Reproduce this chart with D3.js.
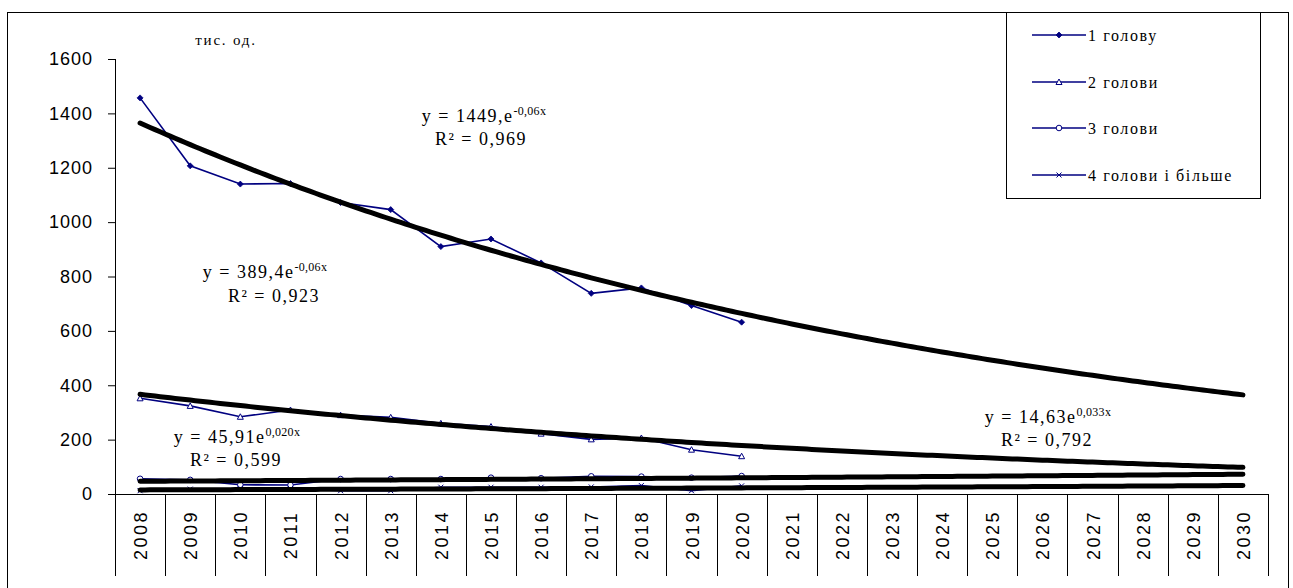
<!DOCTYPE html>
<html>
<head>
<meta charset="utf-8">
<script src="https://cdn.jsdelivr.net/npm/d3@7"></script>
<style>
  html, body { margin: 0; padding: 0; background: #fff; }
  svg { display: block; }
</style>
</head>
<body>
<svg id="chart" width="1293" height="588"></svg>
<script>
// Years on the category axis (observed 2008–2020, forecast to 2030)
const years = ["2008","2009","2010","2011","2012","2013","2014","2015","2016","2017","2018","2019","2020",
               "2021","2022","2023","2024","2025","2026","2027","2028","2029","2030"];
const observedYears = years.slice(0, 13);

// Households by number of cattle heads, thousand units
const seriesNames = ["1 голову", "2 голови", "3 голови", "4 голови і більше"];
const oneHead   = [1457, 1207, 1140, 1142, 1072, 1046, 910, 938, 850, 738, 758, 693, 632];
const twoHeads  = [352, 324, 284, 309, 290, 282, 260, 248, 222, 201, 206, 163, 139];
const threeHeads = [56, 52, 34, 33, 55, 55, 55, 60, 58, 65, 64, 60, 66];
const fourPlus  = [12, 18, 19, 20, 12, 12, 25, 25, 25, 26, 31, 12, 30];

// Exponential trends y = a·e^(b·x), x = 1 for 2008
const trendA = [1449, 389.4, 45.91, 14.63];
const trendB = [-0.06, -0.06, 0.020, 0.033];
const trendCoefText = ["1449,e", "389,4e", "45,91e", "14,63e"];
const trendExpText  = ["-0,06x", "-0,06x", "0,020x", "0,033x"];
const trendR2Text   = ["0,969", "0,923", "0,599", "0,792"];

const yTicks = [0, 200, 400, 600, 800, 1000, 1200, 1400, 1600];
const unitLabel = "тис. од.";

const svg = d3.select("#chart");
const navy = "#000080";
const serif = "'Liberation Serif', 'Times New Roman', serif";
const sans = "'Liberation Sans', Arial, sans-serif";

// Outer frame
svg.append("rect").attr("x", 7.5).attr("y", 12.5).attr("width", 1281).attr("height", 600)
  .attr("fill", "none").attr("stroke", "#000").attr("stroke-width", 1);

const plot = { left: 115, right: 1268, top: 59, bottom: 494 };

const x = d3.scaleBand().domain(years).range([plot.left, plot.right]).padding(0);
const cx = d => x(d) + x.bandwidth() / 2;
const y = d3.scaleLinear().domain([0, 1600]).range([plot.bottom, plot.top]);

// Y axis
const yAxis = svg.append("g").attr("transform", `translate(${plot.left},0)`)
  .call(d3.axisLeft(y).tickValues(yTicks).tickSize(7).tickPadding(15).tickFormat(d3.format("d")));
yAxis.select(".domain").attr("stroke", "#000").attr("d", `M0.5,${plot.top}V${plot.bottom}`);
yAxis.selectAll(".tick line").attr("stroke", "#000");
yAxis.selectAll(".tick text")
  .attr("font-family", sans).attr("font-size", 18).attr("letter-spacing", 1).attr("fill", "#000");

// X axis: baseline and category separators
svg.append("line").attr("x1", plot.left - 7).attr("x2", plot.right)
  .attr("y1", plot.bottom + 0.5).attr("y2", plot.bottom + 0.5).attr("stroke", "#000");
const bounds = years.map(d => x(d)).concat([plot.right]);
svg.append("g").selectAll("line").data(bounds).join("line")
  .attr("x1", d => Math.round(d) + 0.5).attr("x2", d => Math.round(d) + 0.5)
  .attr("y1", plot.bottom).attr("y2", 576).attr("stroke", "#000");
svg.append("g").selectAll("text").data(years).join("text")
  .attr("transform", d => `translate(${cx(d) + 1},535) rotate(-90)`)
  .attr("text-anchor", "middle").attr("dominant-baseline", "central")
  .attr("font-family", sans).attr("font-size", 18).attr("letter-spacing", 2.5)
  .text(d => d);

// Unit label
svg.append("text").attr("x", 226).attr("y", 45).attr("text-anchor", "middle")
  .attr("font-family", serif).attr("font-size", 15).attr("letter-spacing", 1.8)
  .text(unitLabel);

// Observed series
const allSeries = [oneHead, twoHeads, threeHeads, fourPlus];
const line = d3.line().x((d, i) => cx(observedYears[i])).y(d => y(d));

function drawMarker(g, kind, px, py) {
  if (kind === 0) {
    g.append("path").attr("d", `M${px},${py - 3}L${px + 3},${py}L${px},${py + 3}L${px - 3},${py}Z`)
      .attr("fill", navy).attr("stroke", navy).attr("stroke-width", 0.8);
  } else if (kind === 1) {
    g.append("path").attr("d", `M${px},${py - 3}L${px + 3},${py + 2.5}L${px - 3},${py + 2.5}Z`)
      .attr("fill", "#fff").attr("stroke", navy).attr("stroke-width", 1);
  } else if (kind === 2) {
    g.append("circle").attr("cx", px).attr("cy", py).attr("r", 2.8)
      .attr("fill", "#fff").attr("stroke", navy).attr("stroke-width", 1);
  } else {
    g.append("path").attr("d", `M${px - 2.5},${py - 2.5}L${px + 2.5},${py + 2.5}M${px - 2.5},${py + 2.5}L${px + 2.5},${py - 2.5}`)
      .attr("stroke", navy).attr("stroke-width", 1);
  }
}

const seriesG = svg.append("g");
allSeries.forEach((vals, k) => {
  seriesG.append("path").datum(vals).attr("d", line)
    .attr("fill", "none").attr("stroke", navy).attr("stroke-width", 1.6);
  const mg = seriesG.append("g");
  vals.forEach((v, i) => drawMarker(mg, k, cx(observedYears[i]), y(v)));
});

// Trend lines (drawn over the series)
const step = x.bandwidth();
const x0 = cx(years[0]);
const nX = years.length;
const trendG = svg.append("g");
trendA.forEach((a, k) => {
  const pts = d3.range(0, 221).map(j => {
    const t = 1 + (nX - 1) * j / 220;
    return [x0 + (t - 1) * step, y(a * Math.exp(trendB[k] * t))];
  });
  trendG.append("path").datum(pts).attr("d", d3.line())
    .attr("fill", "none").attr("stroke", "#000").attr("stroke-width", 5)
    .attr("stroke-linecap", "round").attr("stroke-linejoin", "round");
});

// Trend equations
const eqPos = [
  { x: 484, y: 122, rx: 481, ry: 145 },
  { x: 265, y: 278, rx: 274, ry: 302 },
  { x: 237, y: 443, rx: 236, ry: 466 },
  { x: 1048, y: 423, rx: 1047, ry: 446 }
];
trendA.forEach((a, k) => {
  const p = eqPos[k];
  const t = svg.append("text").attr("x", p.x).attr("y", p.y).attr("text-anchor", "middle")
    .attr("font-family", serif).attr("font-size", 18).attr("xml:space", "preserve");
  t.append("tspan").attr("letter-spacing", 1.5).text("y = " + trendCoefText[k]);
  t.append("tspan").attr("dy", -7).attr("font-size", 12).attr("letter-spacing", 0.3).text(trendExpText[k]);
  svg.append("text").attr("x", p.rx).attr("y", p.ry).attr("text-anchor", "middle")
    .attr("font-family", serif).attr("font-size", 18).attr("letter-spacing", 1.5)
    .attr("xml:space", "preserve")
    .text("R² = " + trendR2Text[k]);
});

// Legend
const lg = svg.append("g");
lg.append("rect").attr("x", 1006.5).attr("y", 12.5).attr("width", 254).attr("height", 186)
  .attr("fill", "#fff").attr("stroke", "#000").attr("stroke-width", 1);
const legendY = [35, 82, 128, 175];
seriesNames.forEach((name, k) => {
  const yy = legendY[k];
  lg.append("line").attr("x1", 1032).attr("x2", 1086).attr("y1", yy).attr("y2", yy)
    .attr("stroke", navy).attr("stroke-width", 1.6);
  drawMarker(lg, k, 1059, yy);
  lg.append("text").attr("x", 1088).attr("y", yy).attr("dominant-baseline", "central")
    .attr("font-family", serif).attr("font-size", 16).attr("letter-spacing", 1.6).text(name);
});
</script>
</body>
</html>
